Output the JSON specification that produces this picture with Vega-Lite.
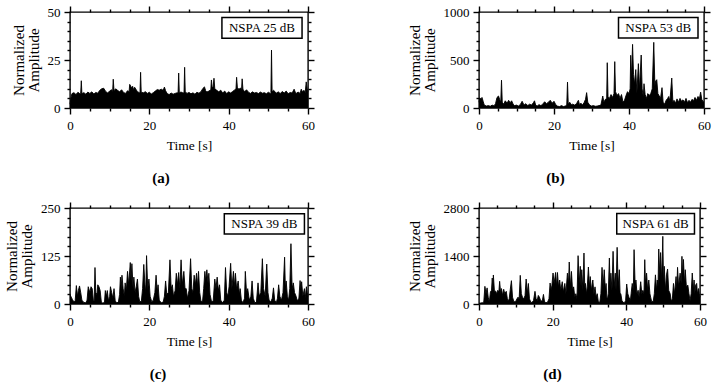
{
  "$schema": "https://vega.github.io/schema/vega-lite/v6.json",
  "padding": {"left": 3, "top": 4, "right": 0, "bottom": 0},
  "background": "white",
  "config": {
    "view": {"stroke": "black", "strokeWidth": 1.4},
    "font": "Liberation Serif",
    "axis": {
      "domain": false, "grid": false, "ticks": true,
      "tickColor": "black", "tickWidth": 1.4, "tickOpacity": 1,
      "labelColor": "black", "labelFont": "Liberation Serif", "labelFontSize": 13,
      "titleColor": "black", "titleFont": "Liberation Serif", "titleFontWeight": "normal",
      "labelFlush": false, "labelOverlap": false
    },
    "axisX": {"labelPadding": 5, "titleFontSize": 13.5, "titlePadding": 6},
    "axisY": {"labelPadding": 4, "titleFontSize": 15, "titlePadding": 6, "titleLineHeight": 15, "format": "d"},
    "title": {"font": "Liberation Serif", "fontSize": 15, "fontWeight": "bold", "color": "black", "orient": "bottom", "anchor": "middle", "offset": 19},
    "line": {"color": "black", "strokeWidth": 0.9, "clip": true},
    "area": {"color": "black", "clip": true}
  },
  "datasets": {
    "a": [
      {"t":0,"v":2},{"t":0.3,"v":6},{"t":0.5,"v":7.5},{"t":1,"v":8},{"t":1.5,"v":7},{"t":2,"v":8.2},{"t":2.5,"v":7.4},{"t":2.7,"v":7.8},{"t":2.85,"v":14.2},{"t":3,"v":7.5},
      {"t":3.5,"v":8},{"t":4,"v":7.2},{"t":4.5,"v":8.3},{"t":5,"v":7.6},{"t":5.5,"v":8.4},{"t":6,"v":7.3},{"t":6.5,"v":8.1},{"t":7,"v":7.7},{"t":7.5,"v":9.2},{"t":8,"v":10},
      {"t":8.5,"v":10.3},{"t":9,"v":8.6},{"t":9.5,"v":7.8},{"t":10,"v":8.9},{"t":10.5,"v":9.5},{"t":10.75,"v":8.5},{"t":10.9,"v":15},{"t":11.1,"v":9},{"t":11.5,"v":10},{"t":12,"v":9.2},
      {"t":12.5,"v":8.4},{"t":13,"v":9.5},{"t":13.5,"v":8.1},{"t":14,"v":7.6},{"t":14.5,"v":9},{"t":14.9,"v":8.5},{"t":15.05,"v":12.3},{"t":15.3,"v":11.5},{"t":15.5,"v":10.5},{"t":15.8,"v":11.3},
      {"t":16,"v":9.5},{"t":16.3,"v":10.8},{"t":16.6,"v":9.8},{"t":17,"v":8.5},{"t":17.5,"v":8},{"t":17.65,"v":8},{"t":17.8,"v":18.6},{"t":17.95,"v":8.2},{"t":18.5,"v":7.9},{"t":19,"v":8.5},
      {"t":19.5,"v":7.6},{"t":20,"v":8.2},{"t":20.5,"v":7.3},{"t":21,"v":8},{"t":21.5,"v":8.8},{"t":22,"v":9.6},{"t":22.5,"v":9.3},{"t":23,"v":9.8},{"t":23.5,"v":9.2},{"t":23.8,"v":10.9},
      {"t":24.1,"v":9},{"t":24.5,"v":7.5},{"t":25,"v":7},{"t":25.5,"v":7.8},{"t":26,"v":7.2},{"t":26.5,"v":7.6},{"t":27,"v":7.9},{"t":27.25,"v":7.8},{"t":27.4,"v":18.2},{"t":27.55,"v":8},
      {"t":28,"v":8.3},{"t":28.5,"v":7.8},{"t":28.75,"v":8},{"t":28.9,"v":21.2},{"t":29.05,"v":8.5},{"t":29.5,"v":7.6},{"t":30,"v":8.1},{"t":30.5,"v":7.4},{"t":31,"v":7.9},{"t":31.5,"v":7.2},
      {"t":32,"v":8.2},{"t":32.5,"v":7.7},{"t":33,"v":8.5},{"t":33.5,"v":10.2},{"t":33.9,"v":11},{"t":34.2,"v":9},{"t":34.5,"v":8.3},{"t":35,"v":8.8},{"t":35.5,"v":9.5},{"t":35.65,"v":14.6},
      {"t":35.85,"v":10.5},{"t":36.1,"v":11.2},{"t":36.3,"v":15.5},{"t":36.5,"v":10},{"t":37,"v":9.2},{"t":37.5,"v":8.4},{"t":38,"v":9.3},{"t":38.5,"v":7.8},{"t":39,"v":8.8},{"t":39.5,"v":7.5},
      {"t":40,"v":8.4},{"t":40.5,"v":7.8},{"t":41,"v":8.6},{"t":41.5,"v":9.4},{"t":41.85,"v":10},{"t":42,"v":16},{"t":42.2,"v":10.5},{"t":42.6,"v":9.8},{"t":43,"v":10.4},{"t":43.25,"v":9.5},
      {"t":43.4,"v":15.2},{"t":43.6,"v":9.8},{"t":44,"v":8.4},{"t":44.5,"v":9.5},{"t":45,"v":8.2},{"t":45.5,"v":7.6},{"t":46,"v":8.4},{"t":46.5,"v":7.8},{"t":47,"v":8.1},{"t":47.5,"v":7.5},
      {"t":48,"v":8.3},{"t":48.5,"v":7.7},{"t":49,"v":8},{"t":49.5,"v":7.4},{"t":50,"v":8.2},{"t":50.5,"v":7.6},{"t":50.65,"v":8},{"t":50.8,"v":30.2},{"t":50.95,"v":8.5},{"t":51.3,"v":9.2},
      {"t":51.7,"v":8.5},{"t":52,"v":7.7},{"t":52.5,"v":8.4},{"t":53,"v":7.5},{"t":53.5,"v":8.6},{"t":54,"v":7.8},{"t":54.5,"v":8.8},{"t":55,"v":7.4},{"t":55.5,"v":8.1},{"t":56,"v":7.8},
      {"t":56.5,"v":9.8},{"t":56.8,"v":8.2},{"t":57,"v":7.6},{"t":57.5,"v":8.3},{"t":58,"v":7.6},{"t":58.3,"v":9.8},{"t":58.6,"v":8.4},{"t":59,"v":9.2},{"t":59.3,"v":8},{"t":59.55,"v":13.6},
      {"t":59.8,"v":10},{"t":60,"v":8.5}
    ],
    "b": [
      {"t":0,"v":60},{"t":0.2,"v":105},{"t":0.5,"v":95},{"t":0.8,"v":110},{"t":1.1,"v":70},{"t":1.4,"v":30},{"t":2,"v":20},{"t":2.5,"v":25},{"t":3,"v":18},{"t":3.5,"v":30},
      {"t":4,"v":22},{"t":4.4,"v":45},{"t":4.8,"v":110},{"t":5.2,"v":125},{"t":5.5,"v":90},{"t":5.8,"v":60},{"t":6,"v":290},{"t":6.2,"v":60},{"t":6.6,"v":40},{"t":7,"v":75},
      {"t":7.5,"v":50},{"t":7.9,"v":80},{"t":8.3,"v":55},{"t":8.7,"v":75},{"t":9.1,"v":40},{"t":9.5,"v":25},{"t":10,"v":30},{"t":10.5,"v":20},{"t":11,"v":35},{"t":11.5,"v":70},
      {"t":12,"v":30},{"t":12.5,"v":45},{"t":13,"v":25},{"t":13.5,"v":40},{"t":14,"v":30},{"t":14.5,"v":55},{"t":14.8,"v":75},{"t":15.1,"v":30},{"t":15.5,"v":20},{"t":16,"v":35},
      {"t":16.5,"v":25},{"t":17,"v":40},{"t":17.5,"v":65},{"t":18,"v":45},{"t":18.5,"v":60},{"t":19,"v":80},{"t":19.5,"v":50},{"t":20,"v":70},{"t":20.4,"v":40},{"t":20.8,"v":20},
      {"t":21.5,"v":15},{"t":22,"v":25},{"t":22.5,"v":15},{"t":23,"v":20},{"t":23.4,"v":30},{"t":23.6,"v":270},{"t":23.8,"v":40},{"t":24.2,"v":60},{"t":24.6,"v":35},{"t":25,"v":40},
      {"t":25.5,"v":30},{"t":26,"v":45},{"t":26.5,"v":80},{"t":26.8,"v":35},{"t":27.2,"v":50},{"t":27.6,"v":30},{"t":28,"v":55},{"t":28.4,"v":90},{"t":28.7,"v":160},{"t":29,"v":60},
      {"t":29.5,"v":30},{"t":30,"v":20},{"t":30.5,"v":25},{"t":31,"v":18},{"t":31.5,"v":20},{"t":32,"v":25},{"t":32.5,"v":30},{"t":33,"v":125},{"t":33.3,"v":60},{"t":33.7,"v":90},
      {"t":34.05,"v":100},{"t":34.2,"v":472},{"t":34.4,"v":120},{"t":34.8,"v":100},{"t":35.2,"v":140},{"t":35.6,"v":110},{"t":36,"v":150},{"t":36.2,"v":483},{"t":36.4,"v":170},{"t":36.8,"v":130},
      {"t":37.2,"v":150},{"t":37.6,"v":100},{"t":38,"v":140},{"t":38.4,"v":60},{"t":38.8,"v":80},{"t":39.2,"v":130},{"t":39.6,"v":170},{"t":40,"v":150},{"t":40.3,"v":200},{"t":40.45,"v":549},
      {"t":40.65,"v":300},{"t":40.95,"v":663},{"t":41.2,"v":350},{"t":41.5,"v":250},{"t":41.8,"v":400},{"t":42.1,"v":150},{"t":42.5,"v":462},{"t":42.8,"v":200},{"t":43.25,"v":552},{"t":43.5,"v":200},
      {"t":43.8,"v":120},{"t":44,"v":253},{"t":44.3,"v":140},{"t":44.7,"v":100},{"t":45,"v":150},{"t":45.4,"v":130},{"t":45.8,"v":150},{"t":46.2,"v":200},{"t":46.6,"v":684},{"t":46.9,"v":230},
      {"t":47.1,"v":280},{"t":47.4,"v":295},{"t":47.7,"v":150},{"t":48,"v":130},{"t":48.4,"v":100},{"t":48.8,"v":212},{"t":49.1,"v":60},{"t":49.5,"v":40},{"t":49.9,"v":80},{"t":50.3,"v":100},
      {"t":50.6,"v":120},{"t":50.9,"v":70},{"t":51.4,"v":312},{"t":51.7,"v":60},{"t":52,"v":80},{"t":52.4,"v":50},{"t":52.8,"v":95},{"t":53.2,"v":60},{"t":53.6,"v":100},{"t":54,"v":70},
      {"t":54.4,"v":85},{"t":54.8,"v":60},{"t":55.2,"v":100},{"t":55.6,"v":55},{"t":56,"v":80},{"t":56.4,"v":60},{"t":56.8,"v":90},{"t":57.2,"v":75},{"t":57.6,"v":110},{"t":58,"v":80},
      {"t":58.4,"v":120},{"t":58.8,"v":100},{"t":59.1,"v":165},{"t":59.4,"v":90},{"t":59.7,"v":70},{"t":60,"v":60}
    ],
    "c": [
      {"t":0,"v":25},{"t":0.3,"v":18},{"t":0.6,"v":12},{"t":1,"v":5},{"t":1.3,"v":8},{"t":1.6,"v":48},{"t":1.9,"v":20},{"t":2.1,"v":35},{"t":2.4,"v":47},{"t":2.7,"v":30},
      {"t":3,"v":10},{"t":3.5,"v":4},{"t":4,"v":3},{"t":4.3,"v":10},{"t":4.6,"v":45},{"t":5,"v":30},{"t":5.3,"v":45},{"t":5.6,"v":40},{"t":5.9,"v":8},{"t":6.1,"v":10},
      {"t":6.3,"v":95},{"t":6.5,"v":30},{"t":6.8,"v":25},{"t":7,"v":50},{"t":7.3,"v":45},{"t":7.6,"v":35},{"t":7.9,"v":5},{"t":8.3,"v":2},{"t":8.7,"v":5},{"t":8.9,"v":35},
      {"t":9.2,"v":20},{"t":9.4,"v":35},{"t":9.7,"v":8},{"t":10,"v":20},{"t":10.2,"v":45},{"t":10.5,"v":30},{"t":10.8,"v":15},{"t":11.1,"v":40},{"t":11.4,"v":8},{"t":11.8,"v":3},
      {"t":12.2,"v":5},{"t":12.5,"v":25},{"t":12.7,"v":70},{"t":12.9,"v":40},{"t":13.1,"v":75},{"t":13.4,"v":40},{"t":13.7,"v":20},{"t":13.9,"v":55},{"t":14.2,"v":35},{"t":14.5,"v":85},
      {"t":14.8,"v":50},{"t":15.2,"v":108},{"t":15.4,"v":60},{"t":15.6,"v":105},{"t":15.9,"v":40},{"t":16.1,"v":70},{"t":16.4,"v":30},{"t":16.7,"v":45},{"t":17,"v":65},{"t":17.3,"v":20},
      {"t":17.6,"v":5},{"t":18,"v":8},{"t":18.3,"v":40},{"t":18.6,"v":103},{"t":18.9,"v":50},{"t":19.1,"v":30},{"t":19.3,"v":126},{"t":19.6,"v":40},{"t":19.9,"v":65},{"t":20.2,"v":20},
      {"t":20.6,"v":6},{"t":21,"v":10},{"t":21.4,"v":30},{"t":21.7,"v":75},{"t":22,"v":30},{"t":22.2,"v":50},{"t":22.5,"v":10},{"t":23,"v":3},{"t":23.5,"v":5},{"t":23.8,"v":20},
      {"t":24.1,"v":60},{"t":24.4,"v":25},{"t":24.8,"v":30},{"t":25.2,"v":115},{"t":25.5,"v":40},{"t":25.8,"v":50},{"t":26.1,"v":20},{"t":26.5,"v":35},{"t":26.8,"v":80},{"t":27.1,"v":50},
      {"t":27.4,"v":82},{"t":27.7,"v":40},{"t":28,"v":115},{"t":28.3,"v":50},{"t":28.7,"v":85},{"t":29,"v":40},{"t":29.3,"v":40},{"t":29.6,"v":15},{"t":30,"v":35},{"t":30.4,"v":118},
      {"t":30.7,"v":40},{"t":31,"v":30},{"t":31.3,"v":75},{"t":31.6,"v":50},{"t":31.9,"v":80},{"t":32.1,"v":45},{"t":32.4,"v":85},{"t":32.7,"v":30},{"t":33,"v":8},{"t":33.4,"v":5},
      {"t":33.7,"v":40},{"t":34,"v":85},{"t":34.2,"v":60},{"t":34.5,"v":89},{"t":34.8,"v":55},{"t":35,"v":80},{"t":35.3,"v":25},{"t":35.7,"v":5},{"t":36.1,"v":8},{"t":36.5,"v":65},
      {"t":36.8,"v":40},{"t":37.1,"v":70},{"t":37.4,"v":35},{"t":37.7,"v":50},{"t":38,"v":10},{"t":38.5,"v":3},{"t":38.9,"v":10},{"t":39.2,"v":95},{"t":39.5,"v":30},{"t":39.8,"v":20},
      {"t":40.1,"v":45},{"t":40.5,"v":106},{"t":40.8,"v":40},{"t":41.2,"v":85},{"t":41.4,"v":45},{"t":41.7,"v":80},{"t":42,"v":40},{"t":42.4,"v":60},{"t":42.7,"v":25},{"t":42.9,"v":40},
      {"t":43.2,"v":10},{"t":43.6,"v":3},{"t":44,"v":15},{"t":44.2,"v":85},{"t":44.5,"v":30},{"t":44.8,"v":40},{"t":45.2,"v":10},{"t":45.6,"v":20},{"t":45.9,"v":60},{"t":46.2,"v":15},
      {"t":46.6,"v":3},{"t":47,"v":5},{"t":47.4,"v":55},{"t":47.7,"v":20},{"t":48.1,"v":30},{"t":48.5,"v":118},{"t":48.8,"v":40},{"t":49.2,"v":20},{"t":49.6,"v":104},{"t":49.9,"v":30},
      {"t":50.2,"v":10},{"t":50.6,"v":5},{"t":51,"v":15},{"t":51.3,"v":42},{"t":51.6,"v":10},{"t":52,"v":3},{"t":52.3,"v":15},{"t":52.6,"v":50},{"t":52.9,"v":20},{"t":53.3,"v":10},
      {"t":53.7,"v":30},{"t":54.1,"v":122},{"t":54.3,"v":40},{"t":54.5,"v":60},{"t":54.8,"v":20},{"t":55.1,"v":10},{"t":55.4,"v":40},{"t":55.7,"v":157},{"t":56,"v":40},{"t":56.3,"v":55},
      {"t":56.6,"v":30},{"t":57,"v":20},{"t":57.3,"v":8},{"t":57.7,"v":15},{"t":58,"v":61},{"t":58.2,"v":40},{"t":58.4,"v":58},{"t":58.7,"v":20},{"t":59.1,"v":40},{"t":59.3,"v":15},
      {"t":59.6,"v":45},{"t":59.8,"v":30},{"t":60,"v":20}
    ],
    "d": [
      {"t":0,"v":20},{"t":0.5,"v":30},{"t":1,"v":40},{"t":1.3,"v":60},{"t":1.6,"v":515},{"t":1.9,"v":300},{"t":2.2,"v":470},{"t":2.5,"v":200},{"t":2.8,"v":50},{"t":3.1,"v":350},
      {"t":3.4,"v":400},{"t":3.6,"v":758},{"t":3.75,"v":400},{"t":3.9,"v":846},{"t":4.2,"v":350},{"t":4.5,"v":380},{"t":4.8,"v":300},{"t":5.1,"v":400},{"t":5.4,"v":350},{"t":5.6,"v":661},
      {"t":5.9,"v":300},{"t":6.1,"v":450},{"t":6.4,"v":250},{"t":6.7,"v":430},{"t":7,"v":300},{"t":7.4,"v":370},{"t":7.7,"v":150},{"t":7.9,"v":80},{"t":8.2,"v":150},{"t":8.5,"v":430},
      {"t":8.8,"v":680},{"t":9.1,"v":200},{"t":9.5,"v":60},{"t":10,"v":80},{"t":10.3,"v":150},{"t":10.6,"v":200},{"t":10.9,"v":150},{"t":11.2,"v":836},{"t":11.5,"v":300},{"t":11.8,"v":200},
      {"t":12.2,"v":150},{"t":12.5,"v":250},{"t":12.8,"v":729},{"t":13.1,"v":300},{"t":13.4,"v":600},{"t":13.7,"v":150},{"t":14.1,"v":40},{"t":14.5,"v":60},{"t":14.8,"v":100},{"t":15.2,"v":370},
      {"t":15.5,"v":150},{"t":15.8,"v":100},{"t":16.1,"v":250},{"t":16.4,"v":200},{"t":16.8,"v":80},{"t":17.2,"v":100},{"t":17.5,"v":280},{"t":17.8,"v":60},{"t":18.2,"v":40},{"t":18.6,"v":50},
      {"t":19,"v":150},{"t":19.3,"v":612},{"t":19.6,"v":400},{"t":19.8,"v":550},{"t":20.1,"v":904},{"t":20.4,"v":600},{"t":20.8,"v":920},{"t":21.1,"v":500},{"t":21.3,"v":920},{"t":21.6,"v":500},
      {"t":21.9,"v":700},{"t":22.2,"v":400},{"t":22.6,"v":650},{"t":22.9,"v":350},{"t":23.3,"v":600},{"t":23.6,"v":300},{"t":24,"v":900},{"t":24.3,"v":600},{"t":24.5,"v":1225},{"t":24.8,"v":500},
      {"t":25.1,"v":950},{"t":25.4,"v":400},{"t":25.7,"v":500},{"t":26,"v":200},{"t":26.3,"v":300},{"t":26.6,"v":150},{"t":26.9,"v":1410},{"t":27.2,"v":600},{"t":27.5,"v":1100},{"t":27.7,"v":500},
      {"t":27.9,"v":1000},{"t":28.2,"v":400},{"t":28.5,"v":1487},{"t":28.7,"v":500},{"t":28.9,"v":600},{"t":29.2,"v":300},{"t":29.4,"v":500},{"t":29.7,"v":1079},{"t":30,"v":500},{"t":30.2,"v":800},
      {"t":30.5,"v":400},{"t":30.9,"v":700},{"t":31.2,"v":300},{"t":31.5,"v":500},{"t":31.8,"v":200},{"t":32.1,"v":300},{"t":32.4,"v":60},{"t":32.8,"v":50},{"t":33.1,"v":300},{"t":33.4,"v":1069},
      {"t":33.7,"v":500},{"t":34,"v":1000},{"t":34.3,"v":400},{"t":34.5,"v":600},{"t":34.7,"v":200},{"t":34.9,"v":150},{"t":35.1,"v":300},{"t":35.4,"v":1342},{"t":35.6,"v":500},{"t":35.8,"v":900},
      {"t":36.1,"v":400},{"t":36.4,"v":1536},{"t":36.7,"v":500},{"t":37,"v":900},{"t":37.2,"v":400},{"t":37.5,"v":1653},{"t":37.8,"v":500},{"t":38.1,"v":1000},{"t":38.3,"v":300},{"t":38.5,"v":300},
      {"t":38.8,"v":100},{"t":39.1,"v":50},{"t":39.5,"v":40},{"t":39.8,"v":100},{"t":40.1,"v":583},{"t":40.4,"v":300},{"t":40.7,"v":200},{"t":41.1,"v":100},{"t":41.3,"v":300},{"t":41.6,"v":600},
      {"t":41.9,"v":400},{"t":42.1,"v":1585},{"t":42.4,"v":500},{"t":42.6,"v":700},{"t":42.9,"v":300},{"t":43.2,"v":400},{"t":43.5,"v":200},{"t":43.9,"v":650},{"t":44.2,"v":300},{"t":44.5,"v":400},
      {"t":44.8,"v":300},{"t":45,"v":1293},{"t":45.2,"v":600},{"t":45.5,"v":900},{"t":45.8,"v":400},{"t":46.1,"v":700},{"t":46.4,"v":300},{"t":46.6,"v":200},{"t":46.9,"v":60},{"t":47.3,"v":80},
      {"t":47.6,"v":300},{"t":47.9,"v":850},{"t":48.2,"v":400},{"t":48.4,"v":700},{"t":48.6,"v":500},{"t":48.8,"v":1604},{"t":49.1,"v":800},{"t":49.3,"v":1500},{"t":49.6,"v":700},{"t":49.9,"v":1974},
      {"t":50.1,"v":600},{"t":50.3,"v":1100},{"t":50.6,"v":400},{"t":50.9,"v":850},{"t":51.2,"v":1021},{"t":51.5,"v":400},{"t":51.9,"v":300},{"t":52.2,"v":80},{"t":52.5,"v":150},{"t":52.8,"v":600},
      {"t":53.1,"v":300},{"t":53.5,"v":800},{"t":53.7,"v":400},{"t":53.9,"v":1070},{"t":54.2,"v":500},{"t":54.6,"v":900},{"t":54.9,"v":600},{"t":55.1,"v":1390},{"t":55.3,"v":800},{"t":55.5,"v":1300},
      {"t":55.8,"v":600},{"t":56,"v":1000},{"t":56.3,"v":500},{"t":56.7,"v":550},{"t":57,"v":300},{"t":57.3,"v":100},{"t":57.6,"v":300},{"t":57.9,"v":904},{"t":58.2,"v":400},{"t":58.4,"v":700},
      {"t":58.6,"v":300},{"t":58.8,"v":550},{"t":59.1,"v":600},{"t":59.3,"v":300},{"t":59.6,"v":450},{"t":59.8,"v":300},{"t":60,"v":200}
    ]
  },
  "columns": 2,
  "align": {"row": "all", "column": "none"},
  "spacing": {"row": 13, "column": 90},
  "concat": [
    {
      "width": 238, "height": 96,
      "title": {"text": "(a)", "dx": -28},
      "layer": [
        {"data": {"name": "a"}, "mark": "area",
         "encoding": {
           "x": {"field": "t", "type": "quantitative", "scale": {"domain": [0, 60], "nice": false},
                 "axis": {"orient": "bottom", "values": [0, 20, 40, 60], "tickSize": 6, "tickColor": "black", "title": "Time [s]"}},
           "y": {"field": "v", "type": "quantitative", "scale": {"domain": [0, 50], "nice": false},
                 "axis": {"orient": "left", "values": [0, 25, 50], "tickSize": 6, "tickColor": "black", "title": ["Normalized", "Amplitude"]}}}},
        {"data": {"name": "a"}, "mark": "line",
         "encoding": {
           "x": {"field": "t", "type": "quantitative", "axis": {"orient": "top", "values": [0, 20, 40, 60], "tickSize": 6, "tickColor": "black", "labels": false, "title": null}},
           "y": {"field": "v", "type": "quantitative", "axis": {"orient": "right", "values": [0, 25, 50], "tickSize": 6, "tickColor": "black", "labels": false, "title": null}}}},
        {"data": {"name": "a"}, "mark": {"type": "line", "opacity": 0},
         "encoding": {
           "x": {"field": "t", "type": "quantitative", "axis": {"orient": "bottom", "values": [5, 10, 15, 25, 30, 35, 45, 50, 55], "tickSize": 3, "tickColor": "black", "labels": false, "title": null}},
           "y": {"field": "v", "type": "quantitative", "axis": {"orient": "left", "values": [5, 10, 15, 20, 30, 35, 40, 45], "tickSize": 3, "tickColor": "black", "labels": false, "title": null}}}},
        {"data": {"name": "a"}, "mark": {"type": "line", "opacity": 0},
         "encoding": {
           "x": {"field": "t", "type": "quantitative", "axis": {"orient": "top", "values": [5, 10, 15, 25, 30, 35, 45, 50, 55], "tickSize": 3, "tickColor": "black", "labels": false, "title": null}},
           "y": {"field": "v", "type": "quantitative", "axis": {"orient": "right", "values": [5, 10, 15, 20, 30, 35, 40, 45], "tickSize": 3, "tickColor": "black", "labels": false, "title": null}}}},
        {"data": {"values": [{"label": "NSPA 25 dB"}]},
         "layer": [
           {"mark": {"type": "rect", "fill": "white", "stroke": "black", "strokeWidth": 1.5},
            "encoding": {"x": {"datum": 38.3, "type": "quantitative", "axis": null}, "x2": {"datum": 58.5},
                         "y": {"datum": 47.2, "type": "quantitative", "axis": null}, "y2": {"datum": 36.3}}},
           {"mark": {"type": "text", "fontSize": 13, "font": "Liberation Serif", "color": "black", "align": "center", "baseline": "middle"},
            "encoding": {"x": {"datum": 48.4, "type": "quantitative", "axis": null},
                         "y": {"datum": 41.5, "type": "quantitative", "axis": null},
                         "text": {"field": "label"}}}
         ]}
      ],
      "resolve": {"axis": {"x": "independent", "y": "independent"}}
    },
    {
      "width": 225, "height": 96,
      "title": {"text": "(b)", "dx": -36},
      "layer": [
        {"data": {"name": "b"}, "mark": "area",
         "encoding": {
           "x": {"field": "t", "type": "quantitative", "scale": {"domain": [0, 60], "nice": false},
                 "axis": {"orient": "bottom", "values": [0, 20, 40, 60], "tickSize": 6, "tickColor": "black", "title": "Time [s]"}},
           "y": {"field": "v", "type": "quantitative", "scale": {"domain": [0, 1000], "nice": false},
                 "axis": {"orient": "left", "values": [0, 500, 1000], "tickSize": 6, "tickColor": "black", "title": ["Normalized", "Amplitude"]}}}},
        {"data": {"name": "b"}, "mark": "line",
         "encoding": {
           "x": {"field": "t", "type": "quantitative", "axis": {"orient": "top", "values": [0, 20, 40, 60], "tickSize": 6, "tickColor": "black", "labels": false, "title": null}},
           "y": {"field": "v", "type": "quantitative", "axis": {"orient": "right", "values": [0, 500, 1000], "tickSize": 6, "tickColor": "black", "labels": false, "title": null}}}},
        {"data": {"name": "b"}, "mark": {"type": "line", "opacity": 0},
         "encoding": {
           "x": {"field": "t", "type": "quantitative", "axis": {"orient": "bottom", "values": [5, 10, 15, 25, 30, 35, 45, 50, 55], "tickSize": 3, "tickColor": "black", "labels": false, "title": null}},
           "y": {"field": "v", "type": "quantitative", "axis": {"orient": "left", "values": [100, 200, 300, 400, 600, 700, 800, 900], "tickSize": 3, "tickColor": "black", "labels": false, "title": null}}}},
        {"data": {"name": "b"}, "mark": {"type": "line", "opacity": 0},
         "encoding": {
           "x": {"field": "t", "type": "quantitative", "axis": {"orient": "top", "values": [5, 10, 15, 25, 30, 35, 45, 50, 55], "tickSize": 3, "tickColor": "black", "labels": false, "title": null}},
           "y": {"field": "v", "type": "quantitative", "axis": {"orient": "right", "values": [100, 200, 300, 400, 600, 700, 800, 900], "tickSize": 3, "tickColor": "black", "labels": false, "title": null}}}},
        {"data": {"values": [{"label": "NSPA 53 dB"}]},
         "layer": [
           {"mark": {"type": "rect", "fill": "white", "stroke": "black", "strokeWidth": 1.5},
            "encoding": {"x": {"datum": 37.2, "type": "quantitative", "axis": null}, "x2": {"datum": 58.4},
                         "y": {"datum": 942, "type": "quantitative", "axis": null}, "y2": {"datum": 729}}},
           {"mark": {"type": "text", "fontSize": 13, "font": "Liberation Serif", "color": "black", "align": "center", "baseline": "middle"},
            "encoding": {"x": {"datum": 47.8, "type": "quantitative", "axis": null},
                         "y": {"datum": 830, "type": "quantitative", "axis": null},
                         "text": {"field": "label"}}}
         ]}
      ],
      "resolve": {"axis": {"x": "independent", "y": "independent"}}
    },
    {
      "width": 238, "height": 96,
      "title": {"text": "(c)", "dx": -31},
      "layer": [
        {"data": {"name": "c"}, "mark": "area",
         "encoding": {
           "x": {"field": "t", "type": "quantitative", "scale": {"domain": [0, 60], "nice": false},
                 "axis": {"orient": "bottom", "values": [0, 20, 40, 60], "tickSize": 6, "tickColor": "black", "title": "Time [s]"}},
           "y": {"field": "v", "type": "quantitative", "scale": {"domain": [0, 250], "nice": false},
                 "axis": {"orient": "left", "values": [0, 125, 250], "tickSize": 6, "tickColor": "black", "title": ["Normalized", "Amplitude"]}}}},
        {"data": {"name": "c"}, "mark": "line",
         "encoding": {
           "x": {"field": "t", "type": "quantitative", "axis": {"orient": "top", "values": [0, 20, 40, 60], "tickSize": 6, "tickColor": "black", "labels": false, "title": null}},
           "y": {"field": "v", "type": "quantitative", "axis": {"orient": "right", "values": [0, 125, 250], "tickSize": 6, "tickColor": "black", "labels": false, "title": null}}}},
        {"data": {"name": "c"}, "mark": {"type": "line", "opacity": 0},
         "encoding": {
           "x": {"field": "t", "type": "quantitative", "axis": {"orient": "bottom", "values": [5, 10, 15, 25, 30, 35, 45, 50, 55], "tickSize": 3, "tickColor": "black", "labels": false, "title": null}},
           "y": {"field": "v", "type": "quantitative", "axis": {"orient": "left", "values": [25, 50, 75, 100, 150, 175, 200, 225], "tickSize": 3, "tickColor": "black", "labels": false, "title": null}}}},
        {"data": {"name": "c"}, "mark": {"type": "line", "opacity": 0},
         "encoding": {
           "x": {"field": "t", "type": "quantitative", "axis": {"orient": "top", "values": [5, 10, 15, 25, 30, 35, 45, 50, 55], "tickSize": 3, "tickColor": "black", "labels": false, "title": null}},
           "y": {"field": "v", "type": "quantitative", "axis": {"orient": "right", "values": [25, 50, 75, 100, 150, 175, 200, 225], "tickSize": 3, "tickColor": "black", "labels": false, "title": null}}}},
        {"data": {"values": [{"label": "NSPA 39 dB"}]},
         "layer": [
           {"mark": {"type": "rect", "fill": "white", "stroke": "black", "strokeWidth": 1.5},
            "encoding": {"x": {"datum": 38.9, "type": "quantitative", "axis": null}, "x2": {"datum": 59.1},
                         "y": {"datum": 235, "type": "quantitative", "axis": null}, "y2": {"datum": 182}}},
           {"mark": {"type": "text", "fontSize": 13, "font": "Liberation Serif", "color": "black", "align": "center", "baseline": "middle"},
            "encoding": {"x": {"datum": 49, "type": "quantitative", "axis": null},
                         "y": {"datum": 208, "type": "quantitative", "axis": null},
                         "text": {"field": "label"}}}
         ]}
      ],
      "resolve": {"axis": {"x": "independent", "y": "independent"}}
    },
    {
      "width": 221, "height": 96,
      "title": {"text": "(d)", "dx": -37},
      "layer": [
        {"data": {"name": "d"}, "mark": "area",
         "encoding": {
           "x": {"field": "t", "type": "quantitative", "scale": {"domain": [0, 60], "nice": false},
                 "axis": {"orient": "bottom", "values": [0, 20, 40, 60], "tickSize": 6, "tickColor": "black", "title": "Time [s]"}},
           "y": {"field": "v", "type": "quantitative", "scale": {"domain": [0, 2800], "nice": false},
                 "axis": {"orient": "left", "values": [0, 1400, 2800], "tickSize": 6, "tickColor": "black", "title": ["Normalized", "Amplitude"]}}}},
        {"data": {"name": "d"}, "mark": "line",
         "encoding": {
           "x": {"field": "t", "type": "quantitative", "axis": {"orient": "top", "values": [0, 20, 40, 60], "tickSize": 6, "tickColor": "black", "labels": false, "title": null}},
           "y": {"field": "v", "type": "quantitative", "axis": {"orient": "right", "values": [0, 1400, 2800], "tickSize": 6, "tickColor": "black", "labels": false, "title": null}}}},
        {"data": {"name": "d"}, "mark": {"type": "line", "opacity": 0},
         "encoding": {
           "x": {"field": "t", "type": "quantitative", "axis": {"orient": "bottom", "values": [5, 10, 15, 25, 30, 35, 45, 50, 55], "tickSize": 3, "tickColor": "black", "labels": false, "title": null}},
           "y": {"field": "v", "type": "quantitative", "axis": {"orient": "left", "values": [280, 560, 840, 1120, 1680, 1960, 2240, 2520], "tickSize": 3, "tickColor": "black", "labels": false, "title": null}}}},
        {"data": {"name": "d"}, "mark": {"type": "line", "opacity": 0},
         "encoding": {
           "x": {"field": "t", "type": "quantitative", "axis": {"orient": "top", "values": [5, 10, 15, 25, 30, 35, 45, 50, 55], "tickSize": 3, "tickColor": "black", "labels": false, "title": null}},
           "y": {"field": "v", "type": "quantitative", "axis": {"orient": "right", "values": [280, 560, 840, 1120, 1680, 1960, 2240, 2520], "tickSize": 3, "tickColor": "black", "labels": false, "title": null}}}},
        {"data": {"values": [{"label": "NSPA 61 dB"}]},
         "layer": [
           {"mark": {"type": "rect", "fill": "white", "stroke": "black", "strokeWidth": 1.5},
            "encoding": {"x": {"datum": 37.4, "type": "quantitative", "axis": null}, "x2": {"datum": 58.5},
                         "y": {"datum": 2637, "type": "quantitative", "axis": null}, "y2": {"datum": 2042}}},
           {"mark": {"type": "text", "fontSize": 13, "font": "Liberation Serif", "color": "black", "align": "center", "baseline": "middle"},
            "encoding": {"x": {"datum": 47.95, "type": "quantitative", "axis": null},
                         "y": {"datum": 2340, "type": "quantitative", "axis": null},
                         "text": {"field": "label"}}}
         ]}
      ],
      "resolve": {"axis": {"x": "independent", "y": "independent"}}
    }
  ]
}
